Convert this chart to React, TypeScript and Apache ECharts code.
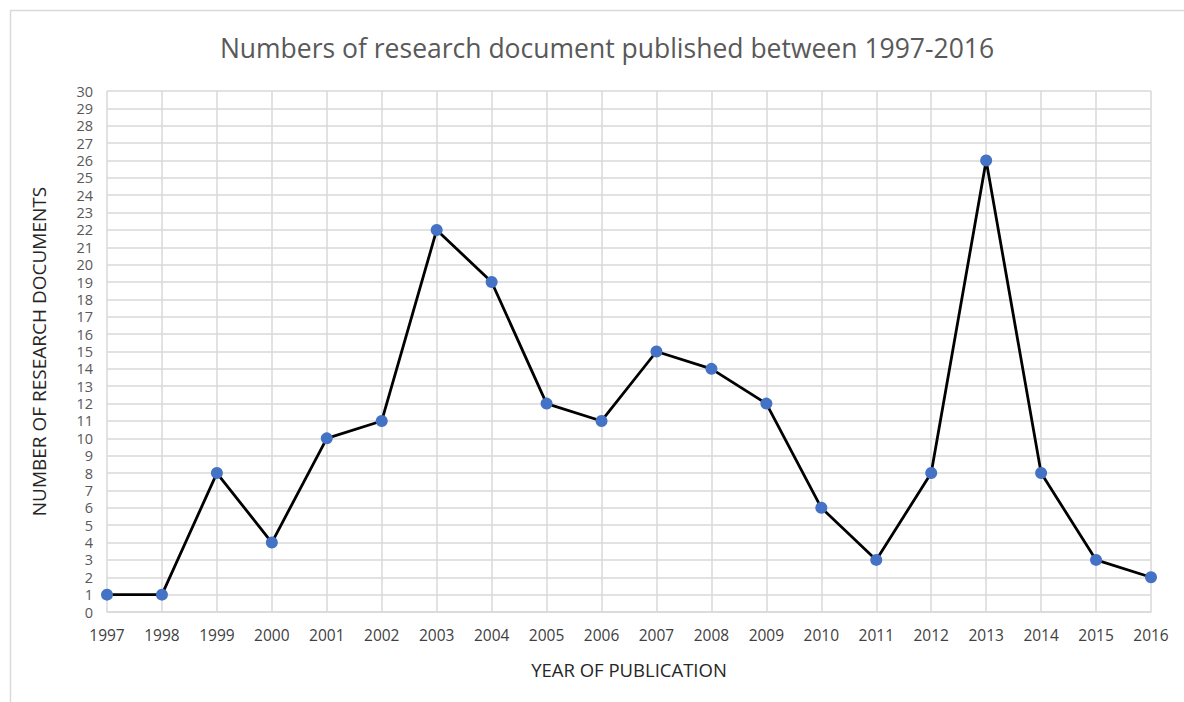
import React, { useEffect, useRef } from "react";
import * as echarts from "echarts";

const years = ["1997","1998","1999","2000","2001","2002","2003","2004","2005","2006","2007","2008","2009","2010","2011","2012","2013","2014","2015","2016"];
const docs = [1,1,8,4,10,11,22,19,12,11,15,14,12,6,3,8,26,8,3,2];
const titleText = "Numbers of research document published between 1997-2016";
const xName = "YEAR OF PUBLICATION";
const yName = "NUMBER OF RESEARCH DOCUMENTS";

export default function App() {
  const ref = useRef<HTMLDivElement>(null);
  useEffect(() => {
    const chart = echarts.init(ref.current!, null, { renderer: "svg" });
    const font = "'Open Sans', 'Noto Sans', sans-serif";
    chart.setOption({
      animation: false,
      backgroundColor: "#ffffff",
      textStyle: { fontFamily: font },
      title: {
        text: titleText,
        left: 602,
        top: 29,
        textAlign: "center",
        textStyle: { fontSize: 26.5, fontWeight: "normal", color: "#595959", fontFamily: font },
      },
      graphic: [
        {
          type: "rect",
          shape: { x: 10.5, y: 10.5, width: 1200, height: 700 },
          style: { fill: "none", stroke: "#d9d9d9", lineWidth: 1.5 },
          silent: true,
        },
      ],
      grid: { left: 107, right: 33, top: 91, bottom: 90 },
      xAxis: {
        type: "category",
        data: years,
        boundaryGap: false,
        axisLine: { show: true, lineStyle: { color: "#d9d9d9", width: 1.5 } },
        axisTick: { show: false },
        splitLine: { show: true, lineStyle: { color: "#d9d9d9", width: 1.5 } },
        axisLabel: { color: "#404040", fontSize: 15.5, margin: 15, fontFamily: font },
        name: xName,
        nameLocation: "middle",
        nameGap: 48,
        nameTextStyle: { color: "#262626", fontSize: 18.5, fontFamily: font },
      },
      yAxis: {
        type: "value",
        min: 0,
        max: 30,
        interval: 1,
        axisLine: { show: false },
        axisTick: { show: false },
        splitLine: { show: true, lineStyle: { color: "#d9d9d9", width: 1.5 } },
        axisLabel: { color: "#595959", fontSize: 14.5, lineHeight: 14, margin: 14, fontFamily: font },
        name: yName,
        nameLocation: "middle",
        nameGap: 59,
        nameRotate: 90,
        nameTextStyle: { color: "#262626", fontSize: 19, fontFamily: font },
      },
      series: [
        {
          type: "line",
          data: docs,
          symbol: "circle",
          symbolSize: 12,
          lineStyle: { color: "#000000", width: 2.8 },
          itemStyle: { color: "#4472c4" },
        },
      ],
    });
    return () => chart.dispose();
  }, []);
  return (
    <div
      ref={ref}
      style={{ position: "fixed", left: 0, top: 0, width: 1184, height: 702 }}
    />
  );
}
